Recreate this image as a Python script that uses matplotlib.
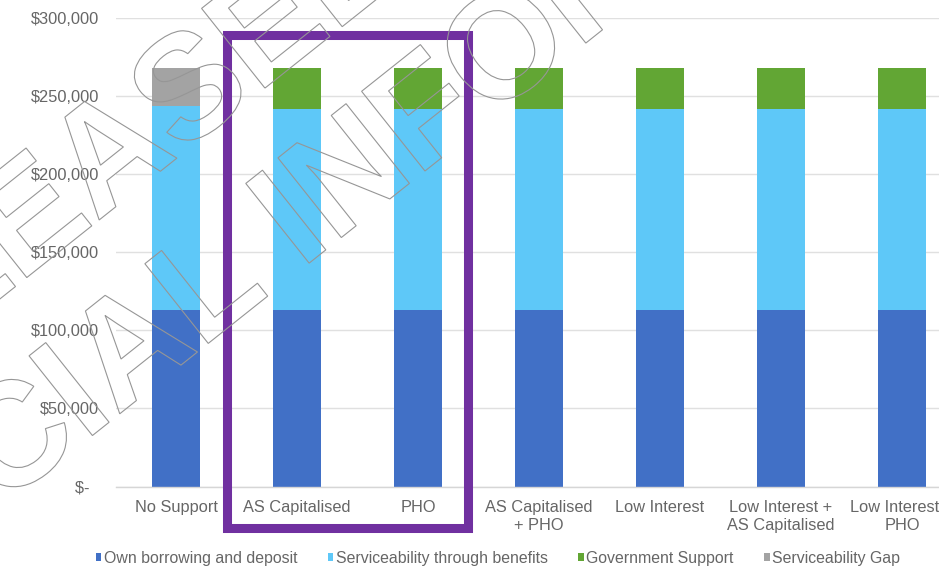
import matplotlib
matplotlib.use("Agg")
import matplotlib.pyplot as plt
import numpy as np
from matplotlib.textpath import TextPath
from matplotlib.patches import PathPatch, Rectangle, Patch
from matplotlib.font_manager import FontProperties
from matplotlib.transforms import Affine2D

# ---- data -------------------------------------------------------------
categories = [
    "No Support",
    "AS Capitalised",
    "PHO",
    "AS Capitalised\n+ PHO",
    "Low Interest",
    "Low Interest +\nAS Capitalised",
    "Low Interest +\nPHO",
]
own_borrowing = [113000, 113000, 113000, 113000, 113000, 113000, 113000]
serviceability_benefits = [131000, 129000, 129000, 129000, 129000, 129000, 129000]
government_support = [0, 26000, 26000, 26000, 26000, 26000, 26000]
serviceability_gap = [24000, 0, 0, 0, 0, 0, 0]

series_names = [
    "Own borrowing and deposit",
    "Serviceability through benefits",
    "Government Support",
    "Serviceability Gap",
]
y_ticks = [0, 50000, 100000, 150000, 200000, 250000, 300000]
y_tick_labels = ["$-  ", "$50,000", "$100,000", "$150,000", "$200,000", "$250,000", "$300,000"]

colors = ["#4170C6", "#5EC8F8", "#62A634", "#A3A3A3"]
text_grey = "#666666"

plt.rcParams["font.family"] = ["Liberation Sans", "DejaVu Sans"]

W, H = 939, 571
fig = plt.figure(figsize=(W / 100, H / 100), dpi=100)
fig.patch.set_facecolor("white")

# plot area in pixel terms
x0_px, x1_px = 115.5, 962.5
y0_px, y1_px = 486.5, 18.3
ax = fig.add_axes([x0_px / W, (H - y0_px) / H, (x1_px - x0_px) / W, (y0_px - y1_px) / H])

x = np.arange(len(categories))
width = 0.39
stack = [own_borrowing, serviceability_benefits, government_support, serviceability_gap]
bottom = np.zeros(len(categories))
handles = []
for vals, c, name in zip(stack, colors, series_names):
    vals = np.array(vals, dtype=float)
    ax.bar(x, vals, width, bottom=bottom, color=c, label=name, zorder=2)
    bottom += vals
    handles.append(Patch(facecolor=c, edgecolor="none", label=name))

ax.set_xlim(-0.5, len(categories) - 0.5)
ax.set_ylim(0, 300000)
ax.set_yticks(y_ticks)
ax.set_yticklabels(y_tick_labels)
ax.set_xticks(x)
ax.set_xticklabels(categories, linespacing=1.25)
ax.tick_params(axis="y", length=0, pad=12, labelsize=11.8, labelcolor=text_grey)
ax.tick_params(axis="x", length=0, pad=10, labelsize=11.8, labelcolor=text_grey)
ax.yaxis.grid(True, color="#e0e0e0", linewidth=1.0, zorder=0)
ax.set_axisbelow(True)
for s in ["top", "right", "left"]:
    ax.spines[s].set_visible(False)
ax.spines["bottom"].set_color("#d6d6d6")
ax.spines["bottom"].set_linewidth(1.0)
ax.spines["bottom"].set_zorder(3)

# legend along the bottom
fig.legend(
    handles=handles,
    loc="center left",
    bbox_to_anchor=(96 / W, 1 - 558 / H),
    ncol=4,
    frameon=False,
    fontsize=11.4,
    labelcolor=text_grey,
    handlelength=0.34,
    handleheight=0.4,
    handletextpad=0.14,
    columnspacing=1.95,
    borderpad=0,
    borderaxespad=0,
)

# purple highlight box around the two single-policy scenarios
px_to_fig = lambda px, py: (px / W, 1 - py / H)
bl = px_to_fig(227, 527.5)
tr = px_to_fig(467.5, 34.5)
box = Rectangle(bl, tr[0] - bl[0], tr[1] - bl[1], transform=fig.transFigure,
                fill=False, edgecolor="#7030A0", linewidth=6.5, zorder=10)
fig.add_artist(box)

# outlined stamp text across the chart
prop = FontProperties(family="Liberation Sans", weight="bold")
size = 148
angle = 38.5
rot = Affine2D().rotate_deg(angle)


def stamp_line(text, idx_prefix, letter, letter_y, target):
    ext_pref = TextPath((0, 0), idx_prefix, size=size, prop=prop).get_extents()
    ext_let = TextPath((0, 0), letter, size=size, prop=prop).get_extents()
    lx = ext_pref.x1 - ext_let.width / 2
    px, py = rot.transform((lx, letter_y))
    tx, ty = target[0] - px, (H - target[1]) - py
    path = TextPath((0, 0), text, size=size, prop=prop)
    tr = Affine2D().rotate_deg(angle).translate(tx, ty).scale(1 / W, 1 / H) + fig.transFigure
    patch = PathPatch(path, transform=tr, facecolor="none", edgecolor="#969696",
                      linewidth=0.8, zorder=20)
    fig.add_artist(patch)


cap = 0.716 * size
stamp_line("RELEASED UNDER THE", "RELEAS", "S", cap / 2, (185, 84))
stamp_line("OFFICIAL INFORMATION ACT", "OFFICIAL I", "I", 0, (317.5, 256.5))

fig.savefig("out.png", dpi=100, facecolor="white")
